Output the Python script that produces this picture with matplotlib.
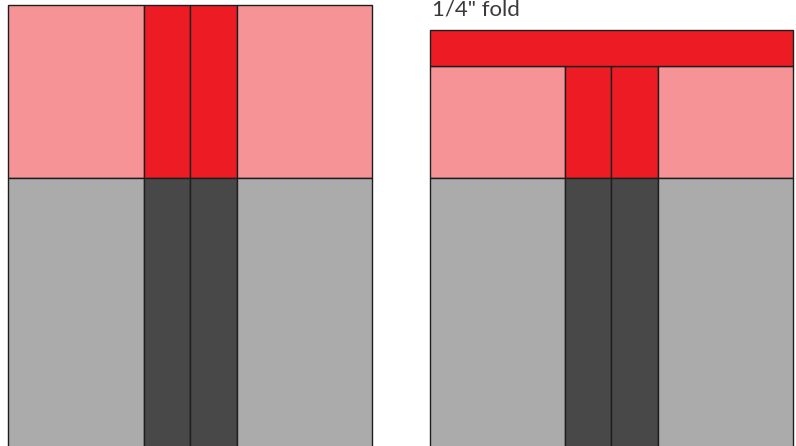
import matplotlib.pyplot as plt
from matplotlib.patches import Rectangle

# column edges (pixel units) for the two panels
left_cols = [8, 144, 190, 237, 372]
right_cols = [430, 565, 611, 658, 793]
# row edges: top of panel, seam between top and bottom, bottom
left_rows = [5, 178, 450]
right_rows = [66, 178, 450]
fold_band = [30, 66]
label = "1/4\" fold"

pink = "#F59396"
red = "#ED1C24"
grey = "#ABABAB"
dark = "#484848"
top_colors = [pink, red, red, pink]
bottom_colors = [grey, dark, dark, grey]

fig = plt.figure(figsize=(7.96, 4.46), dpi=100)
ax = fig.add_axes([0, 0, 1, 1])
ax.set_xlim(0, 796)
ax.set_ylim(446, 0)
ax.axis("off")


def draw_panel(cols, rows):
    for i in range(len(cols) - 1):
        for j, colors in enumerate([top_colors, bottom_colors]):
            ax.add_patch(Rectangle((cols[i], rows[j]), cols[i + 1] - cols[i],
                                   rows[j + 1] - rows[j], facecolor=colors[i],
                                   edgecolor="#1e1e1e", linewidth=1.0))


draw_panel(left_cols, left_rows)
draw_panel(right_cols, right_rows)
ax.add_patch(Rectangle((right_cols[0], fold_band[0]), right_cols[-1] - right_cols[0],
                       fold_band[1] - fold_band[0], facecolor=red,
                       edgecolor="#1e1e1e", linewidth=1.0))
ax.text(432, 16, label, fontsize=16, color="#3a3a3a", family="Lato",
        ha="left", va="baseline")

fig.savefig("out.png", dpi=100)
